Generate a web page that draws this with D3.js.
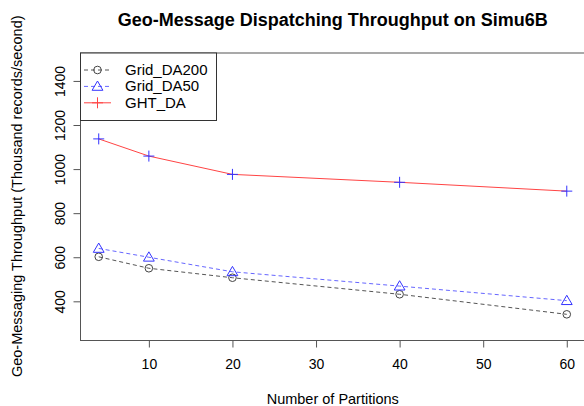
<!DOCTYPE html>
<html>
<head>
<meta charset="utf-8">
<script src="https://cdn.jsdelivr.net/npm/d3@7"></script>
<style>
  body { margin: 0; background: #fff; }
  svg text { font-family: "Liberation Sans", Arial, sans-serif; fill: #000; }
</style>
</head>
<body>
<div id="chart"></div>
<script>
// data
var partitions = [4, 10, 20, 40, 60];
var grid_da200 = [602, 550, 507, 432, 341];
var grid_da50 = [640, 600, 534, 469, 403];
var ght_da = [1137, 1059, 976, 940, 900];
var xTicks = [10, 20, 30, 40, 50, 60];
var yTicks = [400, 600, 800, 1000, 1200, 1400];
var seriesNames = ["Grid_DA200", "Grid_DA50", "GHT_DA"];

var W = 584, H = 406;
var plot = { left: 80, right: 585.5, top: 52.5, bottom: 340 };

var svg = d3.select("#chart").append("svg")
    .attr("width", W)
    .attr("height", H);

var x = d3.scaleLinear().domain([1.76, 62.24]).range([plot.left, plot.right]);
var y = d3.scaleLinear().domain([224.5, 1529]).range([plot.bottom, plot.top]);

// plot box
svg.append("rect")
    .attr("x", plot.left + 0.5).attr("y", plot.top + 0.5)
    .attr("width", plot.right - plot.left).attr("height", plot.bottom - plot.top)
    .attr("fill", "none").attr("stroke", "#555").attr("stroke-width", 1);

// axes, R style: no domain line, ticks only
var xAxis = svg.append("g")
    .attr("transform", "translate(0," + (plot.bottom + 0.5) + ")")
    .call(d3.axisBottom(x).tickValues(xTicks).tickSize(7).tickPadding(12).tickSizeOuter(0));
xAxis.select(".domain").remove();
xAxis.selectAll("line").attr("stroke", "#555");
xAxis.selectAll("text").style("font-size", "14px").attr("fill", "#000");

var yAxis = svg.append("g")
    .attr("transform", "translate(" + (plot.left + 0.5) + ",0)")
    .call(d3.axisLeft(y).tickValues(yTicks).tickSize(7).tickFormat(d3.format("d")));
yAxis.select(".domain").remove();
yAxis.selectAll("line").attr("stroke", "#555");
yAxis.selectAll("text")
    .style("font-size", "14px")
    .attr("fill", "#000")
    .attr("x", null).attr("dy", null)
    .attr("text-anchor", "middle")
    .attr("transform", "translate(-16,0) rotate(-90)");

// titles
svg.append("text")
    .attr("x", (plot.left + plot.right) / 2).attr("y", 26)
    .attr("text-anchor", "middle")
    .style("font-size", "18px").style("font-weight", "bold")
    .text("Geo-Message Dispatching Throughput on Simu6B");

svg.append("text")
    .attr("x", (plot.left + plot.right) / 2).attr("y", 404)
    .attr("text-anchor", "middle")
    .style("font-size", "14.5px")
    .text("Number of Partitions");

svg.append("text")
    .attr("transform", "translate(22," + (plot.top + plot.bottom) / 2 + ") rotate(-90)")
    .attr("text-anchor", "middle")
    .style("font-size", "14.5px")
    .text("Geo-Messaging Throughput (Thousand records/second)");

var line = d3.line()
    .x(function (d) { return x(d[0]); })
    .y(function (d) { return y(d[1]); });

function pairs(vals) {
    return partitions.map(function (p, i) { return [p, vals[i]]; });
}

// marker drawers
function circleMark(g, cx, cy, col) {
    g.append("circle").attr("cx", cx).attr("cy", cy).attr("r", 3.8)
        .attr("fill", "none").attr("stroke", col).attr("stroke-width", 1);
}
function triMark(g, cx, cy, col) {
    var s = 5.4;
    g.append("path")
        .attr("d", "M" + cx + "," + (cy - s) + "L" + (cx + s) + "," + (cy + s * 0.72) + "L" + (cx - s) + "," + (cy + s * 0.72) + "Z")
        .attr("fill", "none").attr("stroke", col).attr("stroke-width", 1);
}
function plusMark(g, cx, cy, col) {
    var s = 5.5;
    g.append("path")
        .attr("d", "M" + (cx - s) + "," + cy + "H" + (cx + s) + "M" + cx + "," + (cy - s) + "V" + (cy + s))
        .attr("fill", "none").attr("stroke", col).attr("stroke-width", 1);
}

var series = [
    { name: seriesNames[0], vals: grid_da200, line: "#555", dash: "4,3", mark: circleMark, markCol: "#444" },
    { name: seriesNames[1], vals: grid_da50, line: "#6666ff", dash: "4,3", mark: triMark, markCol: "#3333ff" },
    { name: seriesNames[2], vals: ght_da, line: "#ff4444", dash: null, mark: plusMark, markCol: "#3333ff" }
];

var gData = svg.append("g");
series.forEach(function (s) {
    gData.append("path")
        .datum(pairs(s.vals))
        .attr("d", line)
        .attr("fill", "none")
        .attr("stroke", s.line)
        .attr("stroke-width", 1)
        .attr("stroke-dasharray", s.dash);
    pairs(s.vals).forEach(function (d) {
        s.mark(gData, x(d[0]), y(d[1]), s.markCol);
    });
});

// legend
var leg = svg.append("g");
leg.append("rect")
    .attr("x", plot.left + 0.5).attr("y", plot.top + 0.5)
    .attr("width", 136).attr("height", 67.5)
    .attr("fill", "#fff").attr("stroke", "#333");
var legendMarkCol = ["#444", "#3333ff", "#ff4444"];
series.forEach(function (s, i) {
    var ly = 70 + i * 16.4;
    leg.append("line")
        .attr("x1", 84).attr("x2", 111).attr("y1", ly).attr("y2", ly)
        .attr("stroke", s.line).attr("stroke-dasharray", s.dash);
    s.mark(leg, 97.5, ly, legendMarkCol[i]);
    leg.append("text")
        .attr("x", 125).attr("y", ly + 5)
        .style("font-size", "15px")
        .text(s.name);
});
</script>
</body>
</html>
